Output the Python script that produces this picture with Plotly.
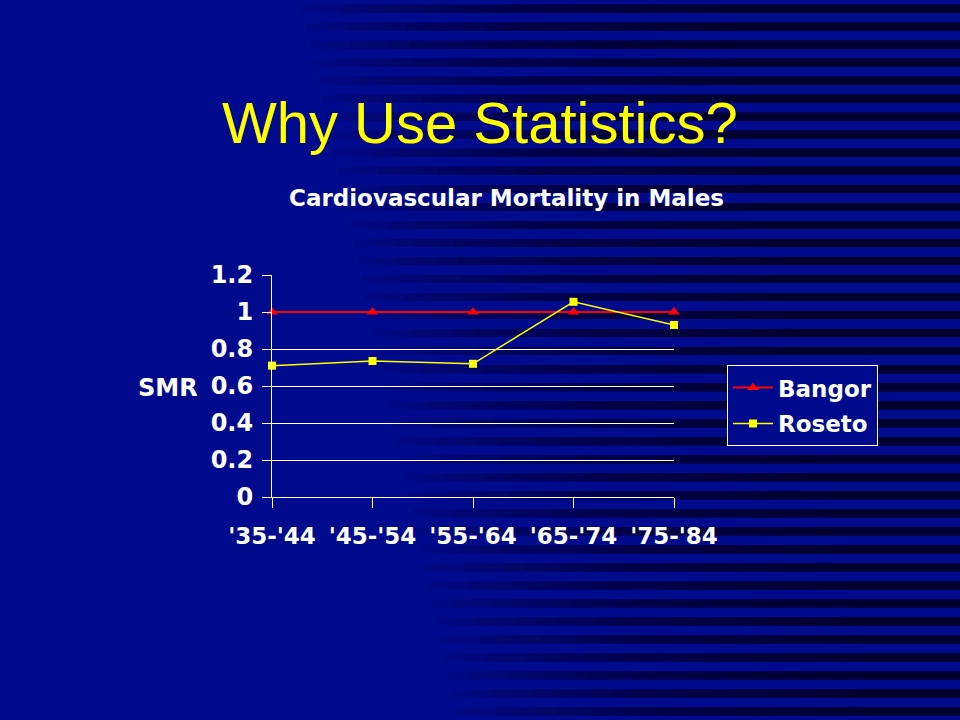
import plotly.graph_objects as go

# ---- data ----
periods = ["'35-'44", "'45-'54", "'55-'64", "'65-'74", "'75-'84"]
bangor = [1.0, 1.0, 1.0, 1.0, 1.0]
roseto = [0.71, 0.735, 0.72, 1.055, 0.93]
y_ticks = [0, 0.2, 0.4, 0.6, 0.8, 1.0, 1.2]
y_tick_labels = ["0", "0.2", "0.4", "0.6", "0.8", "1", "1.2"]

# ---- geometry (pixels) ----
W, H = 960, 720
L, R, T, B = 272, 674, 275, 496.7
PW, PH = R - L, B - T

def px(x):
    return (x - L) / PW

def py(y):
    return (B - y) / PH

BASE = "#000A8C"
DARK = "#000026"
BOLD = dict(family="DejaVu Sans", size=23, color="white", weight="bold")

fig = go.Figure()
fig.add_trace(go.Scatter(
    x=periods, y=bangor, name="Bangor", mode="lines+markers",
    line=dict(color="#FF0000", width=2),
    marker=dict(symbol="triangle-up", size=10, color="#FF0000"),
    legendgroup="a", cliponaxis=False))
fig.add_trace(go.Scatter(
    x=periods, y=roseto, name="Roseto", mode="lines+markers",
    line=dict(color="#FFFF00", width=1.5),
    marker=dict(symbol="square", size=8, color="#FFFF00"),
    legendgroup="b", cliponaxis=False))

# ---- striped slide background (decoration) ----
shapes = []
period, band = 18.0, 8.0
layers, alpha = 22, 0.082
for k in range(-1, 41):
    y0 = 23 + period * k
    y1 = y0 + band
    if y0 > H:
        break
    yc = (y0 + y1) / 2
    start = 300 + 0.22 * yc
    fade = 440
    for j in range(layers):
        x0 = start + fade * j / layers
        shapes.append(dict(
            type="rect", xref="paper", yref="paper", layer="below",
            x0=px(x0), x1=px(W + 5), y0=py(y1), y1=py(y0),
            fillcolor=DARK, opacity=alpha, line=dict(width=0)))

fig.update_layout(
    width=W, height=H,
    margin=dict(l=L, r=W - R, t=T, b=H - B),
    paper_bgcolor=BASE, plot_bgcolor="rgba(0,0,0,0)",
    shapes=shapes,
    showlegend=True,
    legend=dict(
        x=px(727), y=py(365), xanchor="left", yanchor="top",
        bgcolor=BASE, bordercolor="white", borderwidth=1,
        font=BOLD, tracegroupgap=3, traceorder="grouped", itemwidth=40),
    xaxis=dict(
        type="category", range=[0, 4], showgrid=False,
        showline=True, linecolor="white", linewidth=1,
        ticks="outside", ticklen=10, tickcolor="white", tickwidth=1,
        tickfont=BOLD, ticklabelstandoff=8, zeroline=False),
    yaxis=dict(
        range=[0, 1.2], tickvals=y_ticks, ticktext=y_tick_labels,
        showgrid=True, gridcolor="white", gridwidth=1,
        showline=True, linecolor="white", linewidth=1,
        ticks="outside", ticklen=9, tickcolor="white", tickwidth=1,
        tickfont=dict(BOLD, size=24), ticklabelstandoff=4, zeroline=False),
    annotations=[
        dict(text="Why Use Statistics?", xref="paper", yref="paper",
             x=px(480), y=py(123), xanchor="center", yanchor="middle",
             showarrow=False,
             font=dict(family="Liberation Sans", size=58, color="#FFFF00")),
        dict(text="Cardiovascular Mortality in Males", xref="paper", yref="paper",
             x=px(506), y=py(198), xanchor="center", yanchor="middle",
             showarrow=False, font=BOLD),
        dict(text="SMR", xref="paper", yref="paper",
             x=px(200), y=py(388), xanchor="right", yanchor="middle",
             showarrow=False, font=dict(BOLD, size=24)),
    ],
)

fig.write_html(
    "out.html",
    config={"displayModeBar": False},
    post_script="document.body.style.margin='0';document.body.style.padding='0';"
                "document.body.style.overflow='hidden';")
